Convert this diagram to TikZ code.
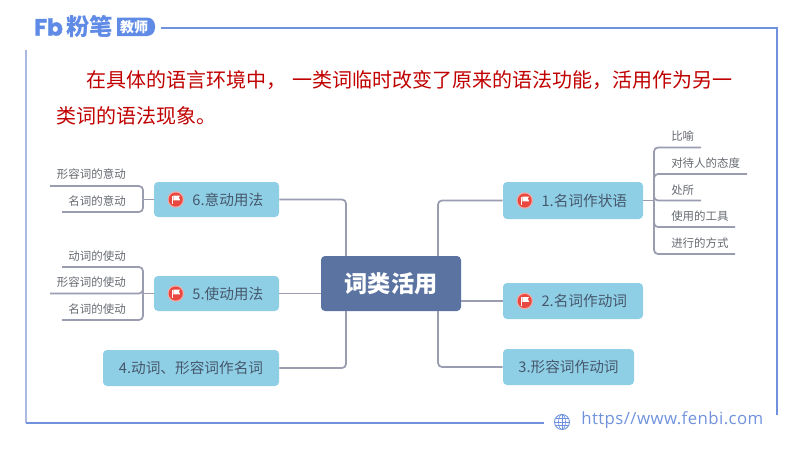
\documentclass[tikz,border=0pt]{standalone}
\usepackage{fontspec}
\setmainfont{Noto Sans CJK SC}
\newfontfamily\urlfont[LetterSpace=2.5]{Open Sans}
\newfontfamily\logofont[FakeBold=1.5]{Poppins}
\definecolor{framec}{HTML}{7092DC}
\definecolor{framel}{HTML}{A9B9E2}
\definecolor{logoc}{HTML}{5F8AE6}
\definecolor{topicc}{HTML}{8FCFE6}
\definecolor{rootc}{HTML}{5B73A1}
\definecolor{linkc}{HTML}{9A9CB0}
\definecolor{inkc}{HTML}{46586C}
\definecolor{leafc}{HTML}{666A70}
\definecolor{redc}{HTML}{C00000}
\definecolor{flagc}{HTML}{E8483F}
\definecolor{ringc}{HTML}{F3A9A4}
\tikzset{
    topic/.style={fill=topicc, rounded corners=3pt, text=inkc, inner sep=0pt,
        font=\fontsize{11}{13}\selectfont},
    leaf/.style={text=leafc, inner sep=0pt, font=\fontsize{8.6}{10}\selectfont},
    link/.style={draw=linkc, line width=1.3pt, rounded corners=3pt},
    flagmark/.pic={
        \fill[ringc] (0,0) circle (8.2);
        \fill[flagc] (0,0) circle (7);
        \fill[white] (-3.5,-4) rectangle (-2.3,4.5);
        \fill[white] (-2.3,-4) -- (4.5,-4) -- (3,-2) -- (4.5,0.8) -- (-2.3,0.8) -- cycle;
    },
    globemark/.pic={
        \draw[framec, line width=0.7pt] (0,0) circle (7.5);
        \draw[framec, line width=0.5pt] (0,0) ellipse (3.5 and 7.5);
        \draw[framec, line width=0.5pt] (-7.5,0) -- (7.5,0) (0,-7.5) -- (0,7.5);
        \draw[framec, line width=0.5pt] (-6.6,-3.4) -- (6.6,-3.4) (-6.6,3.4) -- (6.6,3.4);
    }
}
\begin{document}
\begin{tikzpicture}[x=0.75pt, y=-0.75pt]
    \useasboundingbox (0,0) rectangle (800,450);
    % frame
    \coordinate (ftl) at (161,28);
    \coordinate (ftr) at (777,28);
    \coordinate (fbr) at (777,415);
    \coordinate (fll) at (26,50);
    \coordinate (fbl) at (26,423);
    \coordinate (fbe) at (544,423);
    \draw[framec, line width=1.1pt] (ftl) -- (ftr) -- (fbr);
    \draw[framel, line width=1.3pt] (fll) -- (fbl);
    \draw[framec, line width=1.1pt] (fbl) -- (fbe);
    % logo
    \node[anchor=west, inner sep=0pt, text=logoc] (logoa) at (34,27)
        {\logofont\bfseries\fontsize{17.5}{18}\selectfont Fb};
    \node[anchor=west, inner sep=0pt, text=logoc] (logob) at (66,27)
        {\bfseries\fontsize{17.5}{18}\selectfont 粉笔};
    \fill[logoc] (117,17.5) [rounded corners=6pt] -- (155,17.5) -- (155,36) [sharp corners] -- (117,36) -- cycle;
    \node[text=white, inner sep=0pt] (logoc) at (134,27)
        {\bfseries\fontsize{10.5}{11}\selectfont 教师};
    % heading
    \node[anchor=west, inner sep=0pt, text=redc, font=\fontsize{15}{18}\selectfont] (linea) at (86,80)
        {在具体的语言环境中，\hspace{5pt}一类词临时改变了原来的语法功能，活用作为另一};
    \node[anchor=west, inner sep=0pt, text=redc, font=\fontsize{15}{18}\selectfont] (lineb) at (56,116)
        {类词的语法现象。};
    % root and topics
    \node[fill=rootc, rounded corners=3pt, text=white, inner sep=0pt, minimum width=105pt, minimum height=41.25pt,
        font=\bfseries\fontsize{17.4}{20}\selectfont] (root) at (391,283.5) {词类活用};
    \foreach \name/\cx/\cy/\bw/\bh/\txt in {
        na/573/200.5/105/27.75/\hspace{17pt}1.名词作状语,
        nb/573/301/105/27/\hspace{17pt}2.名词作动词,
        nc/568.5/367/98.25/27/3.形容词作动词,
        nd/191/368/132/27/4.动词、形容词作名词,
        ne/216.5/293.5/93.75/26.25/\hspace{17pt}5.使动用法,
        nf/216.5/199.5/93.75/26.25/\hspace{17pt}6.意动用法
    } {
        \node[topic, minimum width=\bw pt, minimum height=\bh pt] (\name) at (\cx,\cy) {\txt};
    }
    \foreach \name/\off in {na/22, nb/22, ne/22, nf/22} {
        \pic at ([xshift=\off*0.75pt]\name.west) {flagmark};
    }
    % trunks
    \coordinate (tnw) at (346,256);
    \coordinate (tsw) at (346,311);
    \coordinate (tne) at (438,256);
    \coordinate (tse) at (438,311);
    \draw[link] (nf.east) -| (tnw);
    \draw[link] (nd.east) -| (tsw);
    \draw[link] (na.west) -| (tne);
    \draw[link] (nc.west) -| (tse);
    \draw[link] (ne.east) -- (ne.east -| root.west);
    \draw[link] (nb.west) -- (nb.west -| root.east);
    % leaves on the right
    \coordinate (spa) at (654,200.5);
    \draw[link] (na.east) -- (spa);
    \foreach \name/\tx/\ty/\ly/\ex/\txt in {
        ra/671/136/147.5/701/比喻,
        rb/671/163/174/747/对待人的态度,
        rc/671/190/200.5/701/处所,
        rd/671/216/227/735/使用的工具,
        re/671/243/254/735/进行的方式
    } {
        \node[leaf, anchor=west] (\name) at (\tx,\ty) {\txt};
        \coordinate (\name e) at (\ex,\ly);
        \draw[link] (spa) |- (\name e);
    }
    % leaves on the left
    \coordinate (spf) at (143,199.5);
    \coordinate (spe) at (143,293.5);
    \draw[link] (nf.west) -- (spf);
    \draw[link] (ne.west) -- (spe);
    \foreach \name/\spn/\tx/\ty/\ly/\ex/\txt in {
        la/spf/126/174/186/50/形容词的意动,
        lb/spf/126/201/212/62/名词的意动,
        lc/spe/126/256/267/62/动词的使动,
        ld/spe/126/282/293.5/50/形容词的使动,
        le/spe/126/309/320/62/名词的使动
    } {
        \node[leaf, anchor=east] (\name) at (\tx,\ty) {\txt};
        \coordinate (\name e) at (\ex,\ly);
        \draw[link] (\spn) |- (\name e);
    }
    % web address
    \pic at (562,422) {globemark};
    \node[anchor=west, inner sep=0pt, text=framec, font=\urlfont\fontsize{12.6}{14}\selectfont] (web) at (581,420)
        {https//www.fenbi.com};
\end{tikzpicture}
\end{document}
